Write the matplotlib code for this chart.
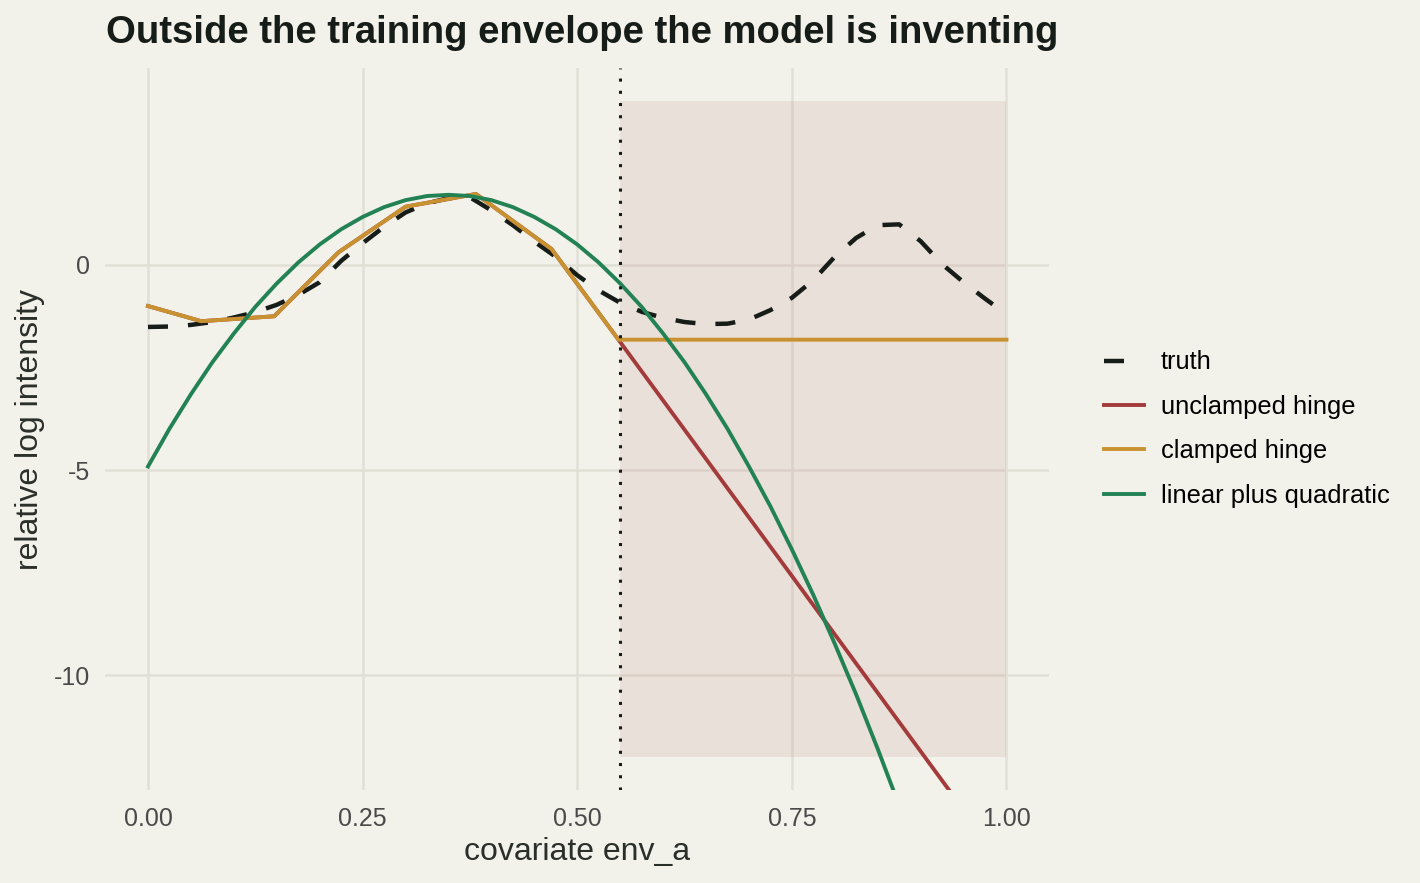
"""Extrapolation of hinge vs quadratic features outside the training envelope."""

import matplotlib
matplotlib.use("Agg")
import matplotlib.pyplot as plt
from matplotlib.patches import Rectangle

plt.rcParams["font.family"] = ["Liberation Sans", "DejaVu Sans"]

BG = "#f2f1ea"
GRID = "#e1e0d7"
INK = "#161c17"
C_TRUTH = "#161c17"
C_UNCLAMPED = "#a33b3b"
C_CLAMPED = "#c89231"
C_QUAD = "#238254"

# truth curve, read every 0.025
truth_x = [i * 0.025 for i in range(41)]
truth_y = [
    -1.51, -1.50, -1.46, -1.39, -1.28, -1.15, -0.97, -0.73, -0.42, 0.10,
    0.53, 0.93, 1.28, 1.50, 1.63, 1.65, 1.33, 0.97, 0.57, 0.20,
    -0.25, -0.62, -0.92, -1.14, -1.29, -1.39, -1.44, -1.43, -1.33, -1.10,
    -0.80, -0.37, 0.20, 0.66, 0.97, 0.99, 0.58, 0.02, -0.42, -0.82,
    -1.20,
]

# hinge knots
hinge_x = [0.0, 0.062, 0.147, 0.222, 0.300, 0.382, 0.470, 0.548, 1.0]
clamped_y = [-1.00, -1.37, -1.25, 0.31, 1.42, 1.73, 0.39, -1.82, -1.82]
unclamped_y = [-1.00, -1.37, -1.25, 0.31, 1.42, 1.73, 0.39, -1.82, -14.70]

# linear plus quadratic fit, read every 0.025
quad_x = [i * 0.025 for i in range(41)]
quad_y = [
    -4.91, -3.99, -3.15, -2.37, -1.67, -1.02, -0.45, 0.06, 0.50, 0.87,
    1.17, 1.41, 1.58, 1.68, 1.71, 1.68, 1.58, 1.41, 1.17, 0.87,
    0.50, 0.06, -0.45, -1.02, -1.67, -2.37, -3.15, -3.99, -4.91, -5.88,
    -6.93, -8.04, -9.23, -10.47, -11.79, -13.17, -14.63, -16.14, -17.73, -19.38,
    -21.11,
]

train_max = 0.55
env_y = (-12.0, 4.0)


def main() -> None:
    fig = plt.figure(figsize=(14.2, 8.83), dpi=100, facecolor=BG)
    ax = fig.add_axes([0.074, 0.105, 0.665, 0.818], facecolor=BG)

    ax.add_patch(Rectangle((train_max, env_y[0]), 1.0 - train_max, env_y[1] - env_y[0],
                           facecolor=C_UNCLAMPED, alpha=0.09, edgecolor="none", zorder=1))

    ax.plot(truth_x, truth_y, color=C_TRUTH, lw=3.2, dashes=(4.5, 4.5), label="truth", zorder=3)
    ax.plot(hinge_x, unclamped_y, color=C_UNCLAMPED, lw=2.8, label="unclamped hinge", zorder=3)
    ax.plot(hinge_x, clamped_y, color=C_CLAMPED, lw=2.8, label="clamped hinge", zorder=4)
    ax.plot(quad_x, quad_y, color=C_QUAD, lw=2.8, label="linear plus quadratic", zorder=5)

    ax.axvline(train_max, color=INK, lw=2.2, linestyle=(0, (1, 3.0)), zorder=6)

    ax.set_xlim(-0.05, 1.05)
    ax.set_ylim(-12.8, 4.8)
    ax.set_xticks([0, 0.25, 0.5, 0.75, 1.0], ["0.00", "0.25", "0.50", "0.75", "1.00"])
    ax.set_yticks([-10, -5, 0], ["-10", "-5", "0"])
    ax.grid(True, color=GRID, lw=1.8, zorder=0)
    ax.set_axisbelow(True)
    ax.tick_params(length=0, labelsize=18, labelcolor="#4a4a4a")
    ax.tick_params(axis="x", pad=12)
    ax.tick_params(axis="y", pad=11)
    for s in ax.spines.values():
        s.set_visible(False)

    ax.set_xlabel("covariate env_a", fontsize=23, color="#2a2f2a", labelpad=4)
    ax.set_ylabel("relative log intensity", fontsize=23, color="#2a2f2a", labelpad=6)
    fig.text(0.0745, 0.963, "Outside the training envelope the model is inventing",
             fontsize=27.5, fontweight="bold", color=INK, va="center", ha="left")

    ax.legend(loc="center left", bbox_to_anchor=(1.033, 0.5), frameon=False,
              fontsize=18.4, handlelength=1.57, handletextpad=0.67, labelspacing=0.8)

    fig.savefig("out.png", dpi=100, facecolor=BG)


if __name__ == "__main__":
    main()
